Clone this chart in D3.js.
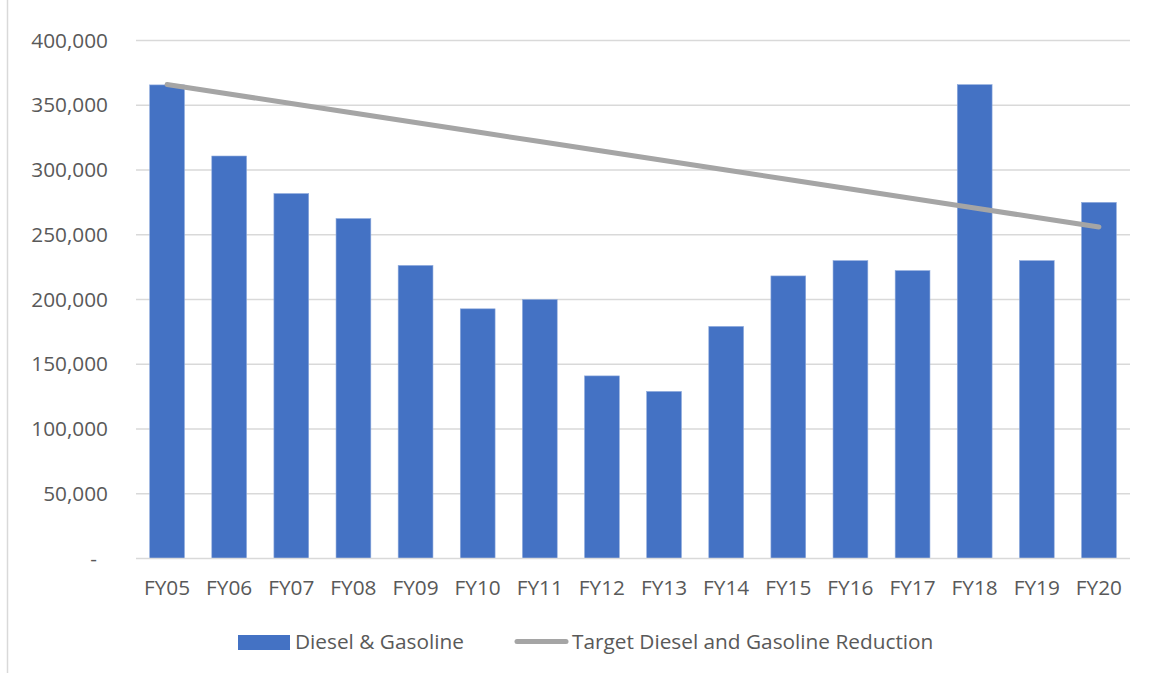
<!DOCTYPE html>
<html>
<head>
<meta charset="utf-8">
<script src="https://cdn.jsdelivr.net/npm/d3@7"></script>
<style>
  html, body { margin: 0; padding: 0; background: #fff; }
  svg { display: block; }
  text { font-family: "Open Sans", "Noto Sans", sans-serif; fill: #595959; }
</style>
</head>
<body>
<svg id="chart" width="1151" height="673"></svg>
<script>
// Fiscal years on the category axis
const categories = ["FY05","FY06","FY07","FY08","FY09","FY10","FY11","FY12",
                    "FY13","FY14","FY15","FY16","FY17","FY18","FY19","FY20"];
// Actual diesel & gasoline use (gallons)
const dieselGasoline = [365700, 310800, 281800, 262500, 226300, 192800, 200000, 141000,
                        129000, 179200, 218200, 230000, 222300, 365900, 230000, 275000];
// Target reduction path
const targetReduction = [366000, 358700, 351300, 344000, 336700, 329300, 322000, 314700,
                         307300, 300000, 292700, 285300, 278000, 270700, 263300, 256000];
// Value-axis ticks
const yTicks = [0, 50000, 100000, 150000, 200000, 250000, 300000, 350000, 400000];

const seriesNames = ["Diesel & Gasoline", "Target Diesel and Gasoline Reduction"];

const svg = d3.select("#chart");
const plot = { left: 136, right: 1130, top: 40.5, bottom: 558.5 };
const fontSize = "20.8px";

// chart frame edge on the left
svg.append("line")
  .attr("x1", 7.5).attr("x2", 7.5).attr("y1", 0).attr("y2", 673)
  .attr("stroke", "#d9d9d9").attr("stroke-width", 1.5);

const x = d3.scaleBand().domain(categories).range([plot.left, plot.right]).paddingInner(0.44).paddingOuter(0.22);
const y = d3.scaleLinear().domain([0, 400000]).range([plot.bottom, plot.top]);

// gridlines
svg.append("g").selectAll("line").data(yTicks.filter(d => d > 0)).join("line")
  .attr("x1", plot.left).attr("x2", plot.right)
  .attr("y1", d => y(d)).attr("y2", d => y(d))
  .attr("stroke", "#d9d9d9").attr("stroke-width", 1.5);

// value axis labels
const fmt = d3.format(",");
const yAxis = d3.axisLeft(y).tickValues(yTicks).tickSize(0).tickPadding(28)
  .tickFormat(d => d === 0 ? "-" : fmt(d));
const gy = svg.append("g").attr("transform", `translate(${plot.left},0)`).call(yAxis);
gy.select(".domain").remove();
gy.selectAll("text").style("font-size", fontSize).attr("fill", "#595959")
  .attr("font-family", "'Open Sans', sans-serif");
gy.selectAll(".tick").filter(d => d === 0).select("text").attr("dx", -11);

// bars
svg.append("g").selectAll("rect").data(dieselGasoline).join("rect")
  .attr("x", (d, i) => x(categories[i]))
  .attr("width", x.bandwidth())
  .attr("y", d => y(d))
  .attr("height", d => y(0) - y(d))
  .attr("fill", "#4472c4")
  .attr("stroke", "#8eaadc").attr("stroke-width", 0.6);

// category axis
const xAxis = d3.axisBottom(x).tickSize(0).tickPadding(22);
const gx = svg.append("g").attr("transform", `translate(0,${plot.bottom})`).call(xAxis);
gx.select(".domain").attr("stroke", "#d9d9d9").attr("stroke-width", 1.5)
  .attr("d", `M${plot.left},0H${plot.right}`);
gx.selectAll("text").style("font-size", fontSize).attr("fill", "#595959")
  .attr("font-family", "'Open Sans', sans-serif");

// target line
const line = d3.line().x((d, i) => x(categories[i]) + x.bandwidth() / 2).y(d => y(d));
svg.append("path").datum(targetReduction)
  .attr("d", line)
  .attr("fill", "none").attr("stroke", "#a5a5a5")
  .attr("stroke-width", 5).attr("stroke-linecap", "round");

// legend
const lg = svg.append("g");
lg.append("rect").attr("x", 238).attr("y", 635).attr("width", 52).attr("height", 15).attr("fill", "#4472c4");
lg.append("text").attr("x", 295).attr("y", 649).style("font-size", fontSize).text(seriesNames[0]);
lg.append("line").attr("x1", 517).attr("x2", 566).attr("y1", 641.5).attr("y2", 641.5)
  .attr("stroke", "#a5a5a5").attr("stroke-width", 5).attr("stroke-linecap", "round");
lg.append("text").attr("x", 572).attr("y", 649).style("font-size", fontSize).text(seriesNames[1]);
</script>
</body>
</html>
